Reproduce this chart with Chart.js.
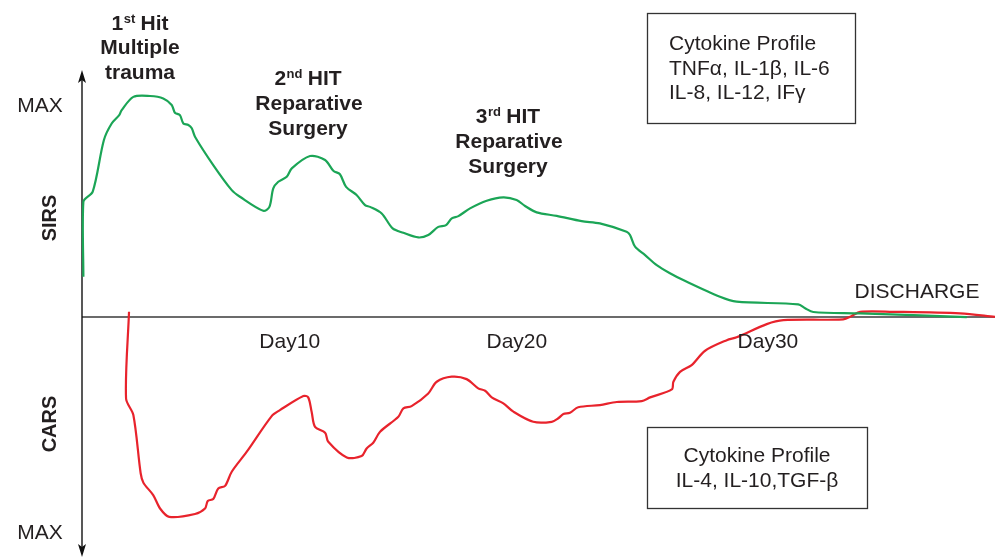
<!DOCTYPE html>
<html>
<head>
<meta charset="utf-8">
<script src="https://cdn.jsdelivr.net/npm/chart.js@4.4.1/dist/chart.umd.min.js"></script>
<style>
  html, body { margin: 0; padding: 0; background: #fff; }
  #wrap { width: 995px; height: 557px; position: relative; }
</style>
</head>
<body>
<div id="wrap"><canvas id="chartHits"></canvas></div>
<script>
// SIRS (pro-inflammatory) curve, days vs level (MAX = 100)
const sirsDays  = [0.06, 0.06, 0.47, 0.96, 1.30, 1.63, 1.74, 2.25, 2.98, 3.56, 3.93, 4.07, 4.29, 4.44, 4.66, 4.81, 4.95,
  5.75, 6.56, 6.92, 7.94, 8.21, 8.38, 8.60, 8.97, 9.19, 9.99, 10.65, 11.01, 11.30, 11.57, 12.03, 12.40, 12.62, 13.13,
  13.61, 14.08, 14.73, 15.17, 15.61, 15.95, 16.20, 16.49, 17.00, 17.73, 18.46, 19.04, 19.41, 19.92, 20.80, 21.89,
  22.69, 23.86, 24.01, 24.23, 24.67, 25.18, 25.76, 26.34, 27.95, 28.68, 31.38, 31.68, 32.04, 34.09, 38.76];
const sirsLevel = [18.3, 52.4, 57.0, 80.5, 88.0, 91.8, 94.1, 100.1, 100.5, 99.4, 96.4, 92.9, 91.8, 88.0, 87.3, 85.8, 82.0,
  69.1, 57.7, 54.7, 48.3, 50.1, 58.5, 61.5, 63.8, 67.6, 73.2, 71.4, 66.5, 64.9, 59.2, 55.5, 50.9, 50.1, 47.1,
  40.3, 38.3, 36.2, 37.3, 41.0, 41.8, 44.9, 45.9, 49.4, 52.9, 54.4, 53.2, 50.5, 47.6, 46.0, 43.6,
  42.6, 38.8, 37.3, 32.0, 28.2, 23.6, 19.9, 16.8, 9.2, 7.0, 5.8, 4.0, 2.3, 1.7, 0];

// CARS (anti-inflammatory) curve, negative = downwards to MAX
const carsDays  = [2.06, 1.93, 2.25, 2.57, 2.69, 3.12, 3.42, 3.82, 4.95, 5.39, 5.51, 5.75, 5.97, 6.27, 6.56, 7.22, 8.31,
  8.67, 9.70, 9.91, 10.06, 10.21, 10.65, 10.79, 11.60, 12.25, 12.47, 12.76, 13.06, 13.86, 14.08, 14.44, 15.17, 15.54,
  16.20, 16.85, 17.36, 17.66, 17.95, 18.46, 18.90, 19.77, 20.58, 20.87, 21.09, 21.38, 21.74, 22.69, 23.43, 24.52,
  24.89, 25.84, 25.91, 26.20, 26.71, 27.30, 28.25, 28.68, 30.00, 30.73, 33.35, 33.72, 34.09, 35.54, 38.47, 40.0];
const carsLevel = [2.4, -37.0, -44.5, -71.0, -75.3, -80.9, -87.0, -90.8, -89.5, -87.0, -83.6, -82.7, -77.9, -76.7, -70.3, -61.2, -45.0,
  -42.3, -35.9, -36.5, -43.0, -49.9, -52.6, -56.7, -63.8, -63.2, -59.7, -57.1, -52.1, -45.3, -41.5, -40.5, -34.7, -29.4,
  -27.1, -28.2, -32.4, -33.5, -36.5, -39.2, -43.0, -47.6, -47.6, -46.0, -44.1, -43.5, -41.0, -40.0, -38.6, -38.2,
  -36.5, -32.9, -29.4, -24.9, -21.8, -15.3, -10.5, -9.2, -3.2, -1.4, -1.0, 0.5, 2.4, 2.4, 1.7, 0.1];

const dayLabels = ['Day10', 'Day20', 'Day30'];
const dayLabelAt = [9.1, 19.05, 30.05];

const FONT = '"Liberation Sans", Arial, Helvetica, sans-serif';

function pairs(xs, ys){
  return xs.map((x, i) => ({ x: x, y: ys[i] }));
}

// superscript helper: "1" + "st" + " Hit"
function supText(ctx, base, sup, rest, cx, y){
  ctx.font = 'bold 21px ' + FONT;
  const w1 = ctx.measureText(base).width;
  const w3 = ctx.measureText(rest).width;
  ctx.font = 'bold 13px ' + FONT;
  const w2 = ctx.measureText(sup).width;
  let x = cx - (w1 + w2 + w3) / 2;
  ctx.textAlign = 'left';
  ctx.font = 'bold 21px ' + FONT;
  ctx.fillText(base, x, y);
  ctx.font = 'bold 13px ' + FONT;
  ctx.fillText(sup, x + w1 + 0.5, y - 7);
  ctx.font = 'bold 21px ' + FONT;
  ctx.fillText(rest, x + w1 + w2, y);
}

const axesPlugin = {
  id: 'axesPlugin',
  beforeDatasetsDraw(chart){
    const ctx = chart.ctx;
    const a = chart.chartArea;
    const y0 = chart.scales.y.getPixelForValue(0);
    ctx.save();
    ctx.strokeStyle = '#3a3a3a';
    ctx.lineWidth = 1.5;
    ctx.beginPath();
    ctx.moveTo(a.left, y0);
    ctx.lineTo(a.right, y0);
    ctx.stroke();

    ctx.strokeStyle = '#111';
    ctx.lineWidth = 1.4;
    ctx.beginPath();
    ctx.moveTo(a.left, a.top + 4);
    ctx.lineTo(a.left, a.bottom - 4);
    ctx.stroke();
    ctx.fillStyle = '#111';
    // top arrow
    ctx.beginPath();
    ctx.moveTo(a.left, a.top - 2);
    ctx.lineTo(a.left - 4, a.top + 11);
    ctx.lineTo(a.left, a.top + 8);
    ctx.lineTo(a.left + 4, a.top + 11);
    ctx.closePath();
    ctx.fill();
    // bottom arrow
    ctx.beginPath();
    ctx.moveTo(a.left, a.bottom + 1);
    ctx.lineTo(a.left - 4, a.bottom - 12);
    ctx.lineTo(a.left, a.bottom - 9);
    ctx.lineTo(a.left + 4, a.bottom - 12);
    ctx.closePath();
    ctx.fill();
    ctx.restore();
  }
};

const textPlugin = {
  id: 'textPlugin',
  afterDraw(chart){
    const ctx = chart.ctx;
    const xs = chart.scales.x;
    ctx.save();
    ctx.fillStyle = '#231f20';
    ctx.textBaseline = 'alphabetic';
    ctx.textAlign = 'center';

    ctx.font = '21px ' + FONT;
    ctx.fillText('MAX', 40, 112);
    ctx.fillText('MAX', 40, 539);
    ctx.fillText('DISCHARGE', 917, 298);
    dayLabels.forEach((lab, i) => ctx.fillText(lab, xs.getPixelForValue(dayLabelAt[i]), 348));

    // rotated axis names
    ctx.font = 'bold 20px ' + FONT;
    ctx.save();
    ctx.translate(56, 218);
    ctx.rotate(-Math.PI / 2);
    ctx.fillText('SIRS', 0, 0);
    ctx.restore();
    ctx.save();
    ctx.translate(56, 424);
    ctx.rotate(-Math.PI / 2);
    ctx.fillText('CARS', 0, 0);
    ctx.restore();

    // hit annotations
    supText(ctx, '1', 'st', ' Hit', 140, 30);
    ctx.textAlign = 'center';
    ctx.font = 'bold 21px ' + FONT;
    ctx.fillText('Multiple', 140, 54);
    ctx.fillText('trauma', 140, 79);

    supText(ctx, '2', 'nd', ' HIT', 308, 85);
    ctx.textAlign = 'center';
    ctx.font = 'bold 21px ' + FONT;
    ctx.fillText('Reparative', 309, 110);
    ctx.fillText('Surgery', 308, 135);

    supText(ctx, '3', 'rd', ' HIT', 508, 123);
    ctx.textAlign = 'center';
    ctx.font = 'bold 21px ' + FONT;
    ctx.fillText('Reparative', 509, 148);
    ctx.fillText('Surgery', 508, 173);

    // cytokine boxes
    ctx.strokeStyle = '#333';
    ctx.lineWidth = 1.3;
    ctx.strokeRect(647.5, 13.5, 208, 110);
    ctx.strokeRect(647.5, 427.5, 220, 81);

    ctx.font = '21px ' + FONT;
    ctx.textAlign = 'left';
    ctx.fillText('Cytokine Profile', 669, 50);
    ctx.fillText('TNF\u03b1, IL-1\u03b2, IL-6', 669, 75);
    ctx.fillText('IL-8, IL-12, IF\u03b3', 669, 99);

    ctx.textAlign = 'center';
    ctx.fillText('Cytokine Profile', 757, 462);
    ctx.fillText('IL-4, IL-10,TGF-\u03b2', 757, 487);
    ctx.restore();
  }
};

new Chart(document.getElementById('chartHits').getContext('2d'), {
  type: 'line',
  data: {
    datasets: [
      { label: 'SIRS', data: pairs(sirsDays, sirsLevel), borderColor: '#1ba556', borderWidth: 2.2,
        pointRadius: 0, tension: 0.3, fill: false, clip: false },
      { label: 'CARS', data: pairs(carsDays, carsLevel), borderColor: '#e8232c', borderWidth: 2.2,
        pointRadius: 0, tension: 0.3, fill: false, clip: false }
    ]
  },
  options: {
    responsive: true,
    maintainAspectRatio: false,
    animation: false,
    layout: { padding: { left: 82, right: 0, top: 72, bottom: 1 } },
    plugins: { legend: { display: false }, tooltip: { enabled: false } },
    scales: {
      x: { type: 'linear', min: 0, max: 40, display: false },
      y: { min: -108.6, max: 111.4, display: false }
    }
  },
  plugins: [axesPlugin, textPlugin]
});
</script>
</body>
</html>
